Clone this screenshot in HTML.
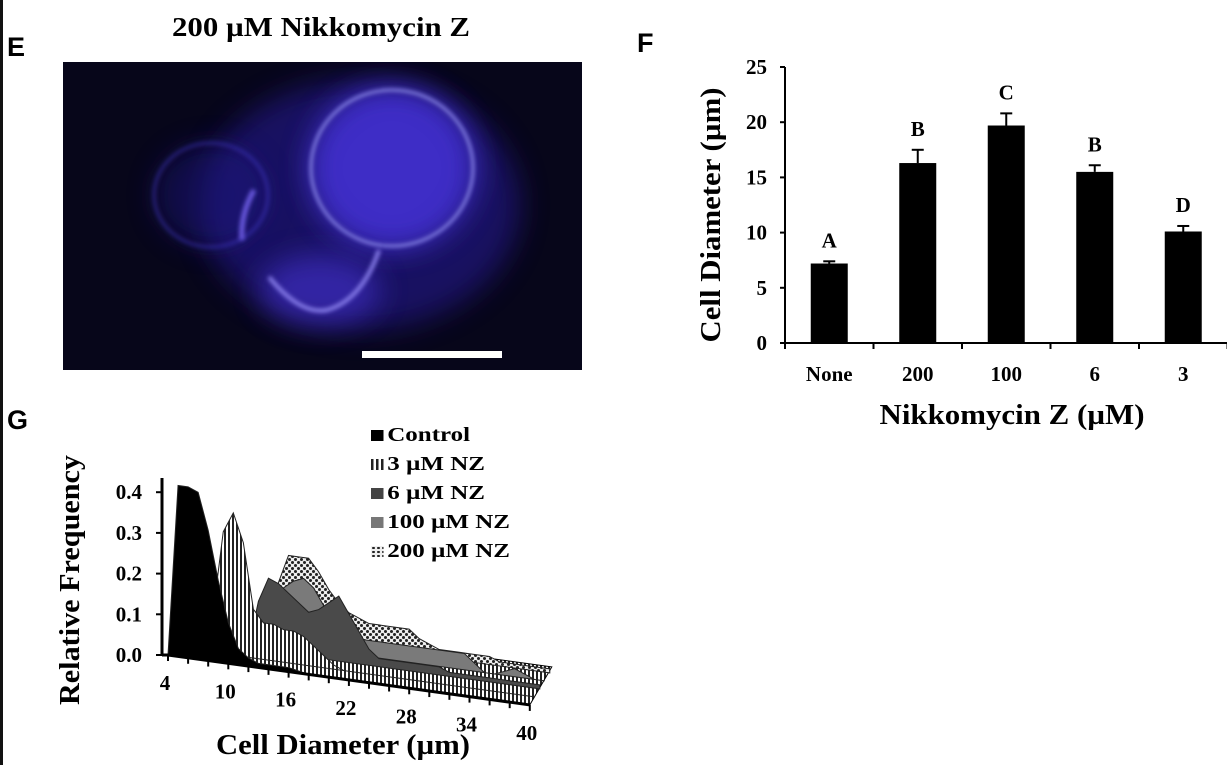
<!DOCTYPE html>
<html><head><meta charset="utf-8"><style>
body{margin:0;background:#fff;width:1227px;height:765px;overflow:hidden;position:relative;font-family:"Liberation Serif",serif}
.abs{position:absolute}
.lt{font-family:"Liberation Sans",sans-serif;font-weight:bold;font-size:27px}
svg text{font-family:"Liberation Serif",serif;font-weight:bold}
.leg{font-weight:bold;font-size:20px;line-height:29px;white-space:nowrap;transform:scaleX(1.25);transform-origin:0 0}
.sw{display:inline-block;width:10px;height:11px;margin-right:3px}
</style></head><body>
<div class="abs" style="left:0;top:0;width:3px;height:765px;background:#111"></div>
<div class="abs lt" style="left:7px;top:32px">E</div>
<div class="abs lt" style="left:637px;top:28px">F</div>
<div class="abs lt" style="left:7px;top:405px">G</div>

<svg class="abs" style="left:0;top:0" width="1227" height="765">
<defs>
<filter id="bl" x="-50%" y="-50%" width="200%" height="200%"><feGaussianBlur stdDeviation="14"/></filter>
<filter id="bl2" x="-50%" y="-50%" width="200%" height="200%"><feGaussianBlur stdDeviation="2"/></filter>
<pattern id="vs" width="4" height="4" patternUnits="userSpaceOnUse"><rect width="4" height="4" fill="#fff"/><rect width="2" height="4" fill="#222"/></pattern>
<pattern id="ck" width="6" height="6" patternUnits="userSpaceOnUse"><rect width="6" height="6" fill="#eee"/><circle cx="1.5" cy="1.5" r="1.5" fill="#222"/><circle cx="4.5" cy="4.5" r="1.5" fill="#222"/></pattern>
<clipPath id="imgclip"><rect x="63" y="62" width="519" height="308"/></clipPath>
</defs>
<text x="321" y="36" text-anchor="middle" font-size="27" textLength="298" lengthAdjust="spacingAndGlyphs">200 µM Nikkomycin Z</text>
<g clip-path="url(#imgclip)">
<rect x="63" y="62" width="519" height="308" fill="#07061a"/>
<ellipse cx="360" cy="205" rx="160" ry="125" fill="#2a1aa8" opacity="0.5" filter="url(#bl)"/>
<ellipse cx="392" cy="168" rx="84" ry="82" fill="#4432d8" opacity="0.85" filter="url(#bl)"/>
<ellipse cx="211" cy="195" rx="57" ry="52" fill="#1e1480" opacity="0.45" filter="url(#bl)"/>
<ellipse cx="320" cy="290" rx="60" ry="35" fill="#4432d0" opacity="0.6" filter="url(#bl)"/>
<ellipse cx="392" cy="168" rx="81" ry="78" fill="none" stroke="#9a98f4" stroke-width="2.5" filter="url(#bl2)"/>
<ellipse cx="211" cy="195" rx="57" ry="52" fill="none" stroke="#4a3ad0" stroke-width="3" opacity="0.5" filter="url(#bl2)"/>
<path d="M269,277 Q300,315 327,310 Q362,300 379,250" fill="none" stroke="#8a80ec" stroke-width="4" filter="url(#bl2)"/>
<path d="M254,190 Q240,215 242,240" fill="none" stroke="#6a5ae0" stroke-width="5" filter="url(#bl2)"/>
<rect x="362" y="351" width="140" height="7" fill="#fff"/>
</g>
<g id="barChart"></g>
<g id="freqChart"></g>
</svg>

<div class="abs leg" style="left:371px;top:421px">
<div><span class="sw" style="background:#000"></span>Control</div>
<div><span class="sw" style="background-image:repeating-linear-gradient(90deg,#222 0 2px,#fff 2px 4px)"></span>3 µM NZ</div>
<div><span class="sw" style="background:#444"></span>6 µM NZ</div>
<div><span class="sw" style="background:#777"></span>100 µM NZ</div>
<div><span class="sw" style="background-image:radial-gradient(circle,#222 40%,#eee 45%);background-size:4px 4px"></span>200 µM NZ</div>
</div>

<script>
// Panel F data
const fCategories = ["None","200","100","6","3"];
const fValues = [7.2,16.3,19.7,15.5,10.1];
const fErrors = [0.2,1.2,1.1,0.6,0.5];
const fLetters = ["A","B","C","B","D"];
const fTicks = [0,5,10,15,20,25];

// Panel G data (diameter 4..40 step 1)
const gDiameters = Array.from({length:37},(_,i)=>4+i);
const gTickLabels = [4,10,16,22,28,34,40];
const gControl = [0,0.42,0.42,0.41,0.32,0.2,0.1,0.04,0.02,0.01,0.01,0.01,0.01,0.005,0,0,0,0,0,0,0,0,0,0,0,0,0,0,0,0,0,0,0,0,0,0,0];
const g3uM = [0,0,0,0,0.1,0.3,0.35,0.28,0.12,0.09,0.09,0.08,0.08,0.07,0.05,0.03,0.01,0,0,0,0,0,0,0,0,0,0,0,0,0,0,0,0,0,0,0,0];
const g6uM = [0,0,0,0,0,0,0,0,0.12,0.18,0.17,0.15,0.13,0.11,0.12,0.14,0.16,0.12,0.08,0.04,0.02,0.02,0.02,0.02,0.02,0.02,0.02,0.01,0.01,0.01,0.01,0.01,0.01,0.01,0.01,0.01,0.01];
const g100uM = [0,0,0,0,0,0,0,0,0,0.1,0.14,0.16,0.17,0.15,0.11,0.09,0.06,0.05,0.04,0.04,0.04,0.04,0.04,0.04,0.04,0.04,0.04,0.04,0.04,0.02,0.0,0.0,0.01,0.02,0.01,0.0,0.0];
const g200uM = [0,0,0,0,0,0,0,0,0.08,0.13,0.2,0.2,0.2,0.17,0.13,0.1,0.08,0.07,0.06,0.06,0.06,0.06,0.06,0.04,0.03,0.02,0.02,0.02,0.02,0.02,0.02,0.01,0.01,0.01,0.01,0.01,0.01];

const NS="http://www.w3.org/2000/svg";
function mk(parent,tag,attrs,txt){const e=document.createElementNS(NS,tag);for(const k in attrs)e.setAttribute(k,attrs[k]);if(txt!==undefined)e.textContent=txt;parent.appendChild(e);return e;}

// ---- Panel F ----
(function(){
const g=document.getElementById('barChart');
const x0=785, y0=343, yTop=67, step=88.5, bw=37;
const ys=v=>y0-(v/25)*(y0-yTop);
const xc=i=>x0+step/2+i*step;
const ax=mk(g,'line',{x1:x0,y1:yTop,x2:x0,y2:y0,stroke:'#000','stroke-width':2});


const xa=mk(g,'line',{x1:x0,y1:y0,x2:1227,y2:y0,stroke:'#000','stroke-width':2});


fTicks.forEach(t=>{
 mk(g,'line',{x1:x0-5,y1:ys(t),x2:x0,y2:ys(t),stroke:'#000','stroke-width':2});
 const tl=mk(g,'text',{x:x0-18,y:ys(t)+7,'text-anchor':'end','font-size':21},t);
 
 
});
for(let i=0;i<=fCategories.length;i++){mk(g,'line',{x1:x0+i*step,y1:y0,x2:x0+i*step,y2:y0+6,stroke:'#000','stroke-width':2});}
fCategories.forEach((c,i)=>{
 const b=mk(g,'rect',{x:xc(i)-bw/2,y:ys(fValues[i]),width:bw,height:y0-ys(fValues[i]),fill:'#000'});
 
 
 const et=ys(fValues[i]+fErrors[i]);
 mk(g,'line',{x1:xc(i),y1:ys(fValues[i]),x2:xc(i),y2:et,stroke:'#000','stroke-width':2});
 mk(g,'line',{x1:xc(i)-6,y1:et,x2:xc(i)+6,y2:et,stroke:'#000','stroke-width':2});
 const lt=mk(g,'text',{x:xc(i),y:et-14,'text-anchor':'middle','font-size':21},fLetters[i]);
 
 
 const cl=mk(g,'text',{x:xc(i),y:381,'text-anchor':'middle','font-size':21},c);
 
 
});
const yt=mk(g,'text',{x:0,y:0,'text-anchor':'middle','font-size':28,textLength:255,lengthAdjust:'spacingAndGlyphs',transform:'translate(720,215) rotate(-90)'},'Cell Diameter (µm)');


const xt=mk(g,'text',{x:1012,y:424,'text-anchor':'middle','font-size':29,textLength:265,lengthAdjust:'spacingAndGlyphs'},'Nikkomycin Z (µM)');


})();

// ---- Panel G ----
(function(){
const g=document.getElementById('freqChart');
const xs=d=>168+(d-4)*10.05;
const fy=d=>655+(d-4)*10.05*0.138;
const sc=407;
const axX=162;
const series=[
 {name:'series-200um',vals:g200uM,fill:'url(#ck)',k:4},
 {name:'series-100um',vals:g100uM,fill:'#7a7a7a',k:3},
 {name:'series-6um',vals:g6uM,fill:'#4a4a4a',k:2},
 {name:'series-3um',vals:g3uM,fill:'url(#vs)',k:1},
 {name:'series-control',vals:gControl,fill:'#000',k:0}
];
const fl=mk(g,'polygon',{points:`${xs(4)},${fy(4)} ${xs(40)},${fy(40)} ${xs(40)+22},${fy(40)-38} ${xs(4)+22},${fy(4)-38}`,fill:'url(#vs)',stroke:'#000','stroke-width':1});


series.forEach(s=>{
 const dx=s.k*5, dy=-s.k*8;
 let pts=`${xs(4)+dx},${fy(4)+dy} `;
 gDiameters.forEach((d,i)=>{pts+=`${xs(d)+dx},${fy(d)+dy-s.vals[i]*sc} `;});
 pts+=`${xs(40)+dx},${fy(40)+dy}`;
 const p=mk(g,'polygon',{points:pts,fill:s.fill,stroke:'#222','stroke-width':1});
 
 
});
const ya=mk(g,'line',{x1:axX,y1:478,x2:axX,y2:655,stroke:'#000','stroke-width':3});


mk(g,'line',{x1:axX,y1:655,x2:xs(4),y2:fy(4),stroke:'#000','stroke-width':3});
mk(g,'line',{x1:xs(4),y1:fy(4),x2:xs(40),y2:fy(40),stroke:'#000','stroke-width':3});
[0,0.1,0.2,0.3,0.4].forEach(t=>{
 const y=655-t*sc;
 mk(g,'line',{x1:axX-6,y1:y,x2:axX,y2:y,stroke:'#000','stroke-width':2});
 const tl=mk(g,'text',{x:142,y:y+7,'text-anchor':'end','font-size':21},t.toFixed(1));
 
 
});
gDiameters.forEach(d=>{if(d%2===0)mk(g,'line',{x1:xs(d),y1:fy(d),x2:xs(d),y2:fy(d)+6,stroke:'#000','stroke-width':2});});
gTickLabels.forEach(d=>{
 const tl=mk(g,'text',{x:xs(d)-3,y:fy(d)+35,'text-anchor':'middle','font-size':21},d);
 
 
});
const yt=mk(g,'text',{x:0,y:0,'text-anchor':'middle','font-size':28,textLength:250,lengthAdjust:'spacingAndGlyphs',transform:'translate(79,580) rotate(-90)'},'Relative Frequency');


const xt=mk(g,'text',{x:343,y:754,'text-anchor':'middle','font-size':29,textLength:254,lengthAdjust:'spacingAndGlyphs'},'Cell Diameter (µm)');


})();
</script>
</body></html>
